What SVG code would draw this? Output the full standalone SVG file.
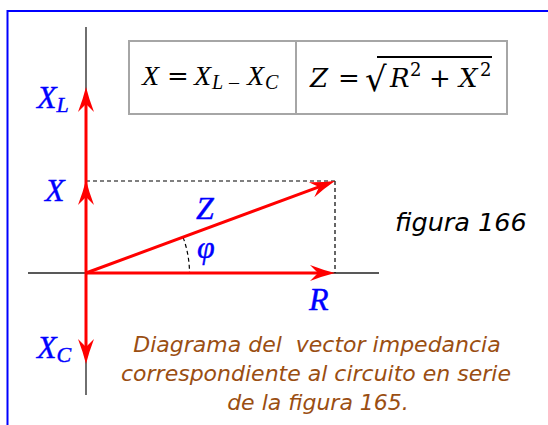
<svg xmlns="http://www.w3.org/2000/svg" width="548" height="425" viewBox="0 0 548 425">
<style>
.lbl{font-family:"Liberation Serif","Times New Roman",serif;font-style:italic;fill:#0000FF;stroke:#0000FF;stroke-width:0.4;font-size:32px}
.sub{font-size:22px}
.f1{font-family:"Liberation Serif","Times New Roman",serif;font-size:28px;fill:#000}
.f2{font-family:"DejaVu Serif",serif;font-size:26px;fill:#000}
.it{font-style:italic}
.cap{font-family:"DejaVu Sans","Verdana",sans-serif;font-style:italic;font-size:22px;fill:#9A4E12;text-anchor:middle;white-space:pre}
.fig{font-family:"DejaVu Sans","Verdana",sans-serif;font-style:italic;font-size:25.5px;fill:#000}
.axis{stroke:#222;stroke-width:1.3;fill:none}
.dash{stroke:#000;stroke-width:1.2;stroke-dasharray:4 3;fill:none}
.vec{stroke:#FF0000;stroke-width:3;fill:none}
</style>
<defs>
<marker id="ah" markerUnits="userSpaceOnUse" markerWidth="30" markerHeight="20" viewBox="-28 -10 30 20" refX="-12" refY="0" orient="auto" overflow="visible">
<path d="M0,0 Q-12,-3 -25,-8 L-17,0 L-25,8 Q-12,3 0,0 Z" fill="#FF0000"/>
</marker>
</defs>
<rect x="7.5" y="11" width="560" height="440" fill="none" stroke="#0000FF" stroke-width="2"/>
<g id="formula-box">
<rect x="129" y="41" width="378" height="73" fill="#fff" stroke="#A6A6A6" stroke-width="2"/>
<line x1="296" y1="41" x2="296" y2="114" stroke="#A6A6A6" stroke-width="2"/>
<text class="f1" y="85"><tspan x="142" class="it">X</tspan><tspan x="167" font-family="DejaVu Serif" font-size="26">=</tspan><tspan x="194" class="it">X</tspan><tspan x="212" y="89" class="it" font-size="20">L</tspan><tspan x="229" y="89" font-size="20">–</tspan><tspan x="247" y="85" class="it">X</tspan><tspan x="265" y="89" class="it" font-size="20">C</tspan></text>
<text class="f2" y="87"><tspan x="310" class="it">Z</tspan><tspan x="338">=</tspan><tspan x="365" y="91" font-size="34">√</tspan><tspan x="390" y="87" class="it">R</tspan><tspan x="410" y="76" font-size="18">2</tspan><tspan x="429" y="87">+</tspan><tspan x="459" class="it">X</tspan><tspan x="480" y="76" font-size="18">2</tspan></text>
<line x1="377" y1="57" x2="492" y2="57" stroke="#000" stroke-width="2"/>
</g>
<g id="axes">
<line class="axis" x1="86" y1="27" x2="86" y2="395"/>
<line class="axis" x1="28" y1="273" x2="379" y2="273"/>
</g>
<g id="connectors">
<line class="dash" x1="86" y1="181" x2="335" y2="181"/>
<line class="dash" x1="335" y1="181" x2="335" y2="273"/>
<path class="dash" d="M183.1,237.4 A103.5,103.5 0 0 1 189.5,273"/>
<line class="vec" x1="86" y1="273" x2="86" y2="192" marker-end="url(#ah)"/>
<line class="vec" x1="86" y1="192" x2="86" y2="99" marker-end="url(#ah)"/>
<line class="vec" x1="86" y1="273" x2="86" y2="352" marker-end="url(#ah)"/>
<line class="vec" x1="86" y1="273" x2="323" y2="273" marker-end="url(#ah)"/>
<line class="vec" x1="86" y1="273" x2="323.74" y2="185.16" marker-end="url(#ah)"/>
</g>
<g id="label-XL"><text class="lbl" x="37" y="108">X<tspan class="sub" y="112">L</tspan></text></g>
<g id="label-X"><text class="lbl" x="45" y="201">X</text></g>
<g id="label-XC"><text class="lbl" x="37" y="358">X<tspan class="sub" y="362">C</tspan></text></g>
<g id="label-Z"><text class="lbl" x="196" y="219">Z</text></g>
<g id="label-phi"><text class="lbl" x="197" y="258" font-size="34">φ</text></g>
<g id="label-R"><text class="lbl" x="309" y="310">R</text></g>
<g id="figure-label"><text class="fig" x="395" y="231">figura 166</text></g>
<g id="caption">
<text class="cap" x="317" y="352" xml:space="preserve">Diagrama del  vector impedancia</text>
<text class="cap" x="316" y="381">correspondiente al circuito en serie</text>
<text class="cap" x="318" y="410">de la figura 165.</text>
</g>
</svg>
